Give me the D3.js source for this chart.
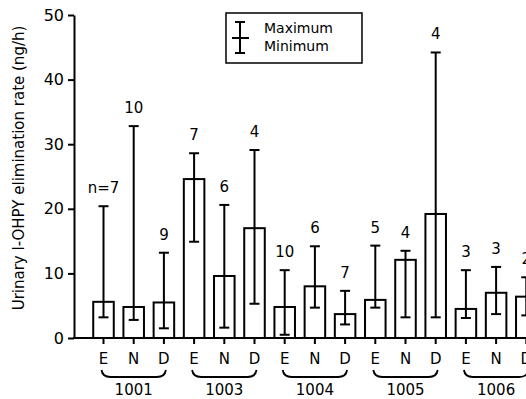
<!DOCTYPE html>
<html>
<head>
<meta charset="utf-8">
<script src="https://cdn.jsdelivr.net/npm/d3@7"></script>
<style>
  html, body { margin: 0; padding: 0; background: #fff; }
  svg { display: block; font-family: "DejaVu Sans", Verdana, sans-serif; }
</style>
</head>
<body>
<svg id="chart" width="526" height="399"></svg>
<script>
const groups = ["1001", "1003", "1004", "1005", "1006"];
const conditions = ["E", "N", "D"];
const meanValues = [5.6, 4.8, 5.5, 24.6, 9.6, 17.0, 4.8, 8.0, 3.7, 5.9, 12.1, 19.2, 4.5, 7.0, 6.4];
const maxValues  = [20.4, 32.8, 13.2, 28.6, 20.6, 29.1, 10.5, 14.2, 7.3, 14.3, 13.5, 44.2, 10.5, 11.0, 9.4];
const minValues  = [3.2, 2.8, 1.5, 14.9, 1.6, 5.3, 0.5, 4.7, 2.1, 4.7, 3.2, 3.2, 3.1, 3.7, 3.5];
const nLabels    = ["n=7", "10", "9", "7", "6", "4", "10", "6", "7", "5", "4", "4", "3", "3", "2"];
const yTicks = [0, 10, 20, 30, 40, 50];
const yTitle = "Urinary l-OHPY elimination rate (ng/h)";
const legendLabels = ["Maximum", "Minimum"];

const rows = [];
groups.forEach((g, gi) => conditions.forEach((c, ci) => {
  const i = gi * conditions.length + ci;
  rows.push({ key: g + c, group: g, cond: c, mean: meanValues[i], max: maxValues[i], min: minValues[i], n: nLabels[i] });
}));

const svg = d3.select("#chart");
const axisX = 74, baseY = 338, topY = 15;
const FONT = "'DejaVu Sans', Verdana, sans-serif";

const y = d3.scaleLinear().domain([0, 50]).range([baseY, topY]);
const x = d3.scaleBand().domain(rows.map(d => d.key))
  .range([88.4, 541.4]).paddingInner(0.32).paddingOuter(0.16);
const cx = k => x(k) + x.bandwidth() / 2;

// Y axis
const yAxis = svg.append("g").attr("transform", `translate(${axisX},0)`)
  .call(d3.axisLeft(y).tickValues(yTicks).tickSize(6).tickSizeOuter(0).tickPadding(4));
yAxis.select(".domain").attr("stroke", "#000").attr("stroke-width", 2);
yAxis.selectAll(".tick line").attr("stroke", "#000").attr("stroke-width", 2);
yAxis.selectAll(".tick text").attr("font-size", 16).attr("fill", "#000")
  .attr("font-family", FONT);

// Baseline
svg.append("line").attr("x1", axisX - 1).attr("x2", 526).attr("y1", baseY).attr("y2", baseY)
  .attr("stroke", "#000").attr("stroke-width", 2);

// Bars
svg.append("g").selectAll("rect").data(rows).join("rect")
  .attr("x", d => x(d.key)).attr("width", x.bandwidth())
  .attr("y", d => y(d.mean)).attr("height", d => y(0) - y(d.mean))
  .attr("fill", "#fff").attr("stroke", "#000").attr("stroke-width", 2);

// Whiskers
const wk = svg.append("g").attr("stroke", "#000").attr("stroke-width", 2);
wk.selectAll("line.v").data(rows).join("line").attr("class", "v")
  .attr("x1", d => cx(d.key)).attr("x2", d => cx(d.key))
  .attr("y1", d => y(d.max)).attr("y2", d => y(d.min));
wk.selectAll("line.t").data(rows).join("line").attr("class", "t")
  .attr("x1", d => cx(d.key) - 5).attr("x2", d => cx(d.key) + 5)
  .attr("y1", d => y(d.max)).attr("y2", d => y(d.max));
wk.selectAll("line.b").data(rows).join("line").attr("class", "b")
  .attr("x1", d => cx(d.key) - 5).attr("x2", d => cx(d.key) + 5)
  .attr("y1", d => y(d.min)).attr("y2", d => y(d.min));

// n labels
svg.append("g").selectAll("text").data(rows).join("text")
  .attr("x", d => cx(d.key)).attr("y", d => y(d.max) - 13)
  .attr("text-anchor", "middle").attr("font-size", 15).attr("fill", "#000")
  .text(d => d.n);

// Category ticks & letters
svg.append("g").selectAll("line").data(rows).join("line")
  .attr("x1", d => cx(d.key)).attr("x2", d => cx(d.key))
  .attr("y1", baseY).attr("y2", baseY + 6)
  .attr("stroke", "#000").attr("stroke-width", 2);
svg.append("g").selectAll("text").data(rows).join("text")
  .attr("x", d => cx(d.key)).attr("y", 364)
  .attr("text-anchor", "middle").attr("font-size", 15).attr("fill", "#000")
  .text(d => d.cond);

// Braces and group labels
const gInfo = groups.map(g => {
  const a = cx(g + conditions[0]), b = cx(g + conditions[conditions.length - 1]);
  return { g, a, b };
});
svg.append("g").selectAll("path").data(gInfo).join("path")
  .attr("d", d => `M${d.a - 2},370 Q${d.a - 1},377 ${d.a + 7},377 L${d.b - 7},377 Q${d.b + 1},377 ${d.b + 2},370`)
  .attr("fill", "none").attr("stroke", "#000").attr("stroke-width", 1.8);
svg.append("g").selectAll("text").data(gInfo).join("text")
  .attr("x", d => (d.a + d.b) / 2).attr("y", 395)
  .attr("text-anchor", "middle").attr("font-size", 15).attr("fill", "#000")
  .text(d => d.g);

// Y title
svg.append("text").attr("transform", "translate(24,168) rotate(-90)")
  .attr("text-anchor", "middle").attr("font-size", 15).attr("fill", "#000")
  .text(yTitle);

// Legend
const lg = svg.append("g");
lg.append("rect").attr("x", 226).attr("y", 13).attr("width", 136).attr("height", 50)
  .attr("fill", "#fff").attr("stroke", "#000").attr("stroke-width", 1.5);
const ls = lg.append("g").attr("stroke", "#000").attr("stroke-width", 2);
ls.append("line").attr("x1", 240).attr("x2", 240).attr("y1", 22).attr("y2", 53);
ls.append("line").attr("x1", 235).attr("x2", 245).attr("y1", 22).attr("y2", 22);
ls.append("line").attr("x1", 235).attr("x2", 245).attr("y1", 53).attr("y2", 53);
ls.append("line").attr("x1", 232).attr("x2", 249).attr("y1", 38).attr("y2", 38);
lg.selectAll("text").data(legendLabels).join("text")
  .attr("x", 264).attr("y", (d, i) => 33 + i * 18)
  .attr("font-size", 14).attr("fill", "#000").text(d => d);
</script>
</body>
</html>
